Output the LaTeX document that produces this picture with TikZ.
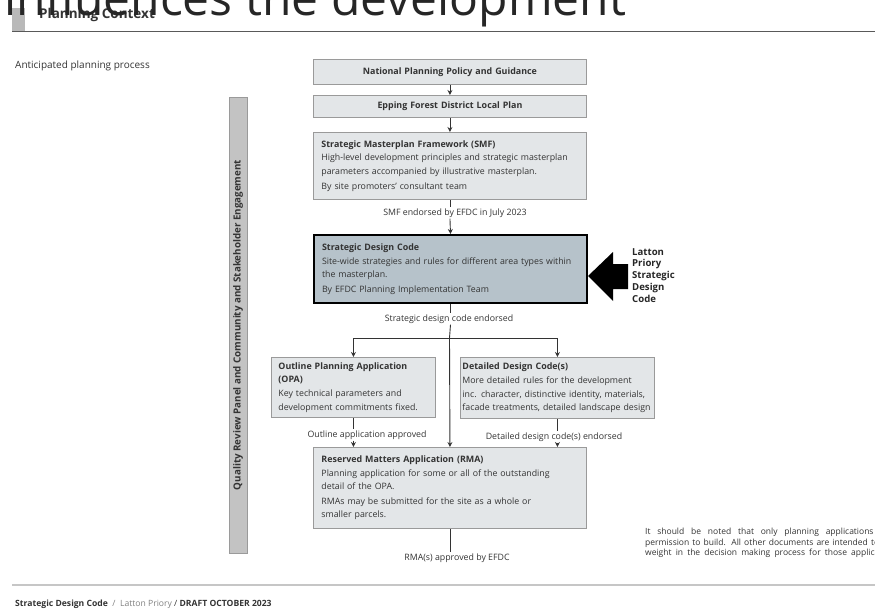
\documentclass[tikz,border=0pt]{standalone}
\usepackage{fontspec}
\setmainfont{Open Sans}
\newfontfamily\overlayfont{Open Sans}
\usetikzlibrary{arrows.meta}

\definecolor{boxfill}{HTML}{E3E6E8}
\definecolor{boxline}{HTML}{9A9A9A}
\definecolor{codefill}{HTML}{B6C2CA}
\definecolor{barfill}{HTML}{C3C3C3}
\definecolor{inkgrey}{HTML}{333333}

\newcommand{\boxtitle}[1]{{\bfseries\fontsize{8.9}{13.6}\selectfont #1}}

\tikzset{
  stagebox/.style={draw=boxline, fill=boxfill, line width=0.9pt, anchor=north west,
    inner xsep=8pt, align=left, text=inkgrey, font=\fontsize{8.8}{13.6}\selectfont},
  codebox/.style={stagebox, draw=black, fill=codefill, line width=2pt},
  steplabel/.style={text=inkgrey, inner sep=1pt, font=\fontsize{8.8}{10}\selectfont},
  flow/.style={line width=0.9pt, draw=inkgrey}
}

\begin{document}
\begin{tikzpicture}[x=1pt, y=-1pt, >={Stealth[length=5pt,width=5pt]}]
\useasboundingbox (0,0) rectangle (875,610);
\clip (0,0) rectangle (875,610);

% intestazione
\fill[gray!55] (12,8) rectangle (25,31);
\node[anchor=base west, inner sep=0, text=inkgrey, font=\bfseries\fontsize{13.5}{14}\selectfont] (context) at (39,19) {Planning Context};
\draw[line width=0.8pt, gray!70!black] (12,31) -- (875,31);
\node[anchor=base west, inner sep=0, text=black!85, font=\overlayfont\fontsize{48}{48}\selectfont] (headline) at (4,16) {influences the development};

\node[anchor=base west, inner sep=0, text=inkgrey, font=\fontsize{10}{11}\selectfont] (process) at (15,69) {Anticipated planning process};

% riquadri del processo
\node[stagebox, minimum width=273pt, minimum height=25pt, text width=257pt, align=center] (policy) at (313,59) {\boxtitle{National Planning Policy and Guidance}};
\node[stagebox, minimum width=273pt, minimum height=22pt, text width=257pt, align=center] (localplan) at (313,95) {\boxtitle{Epping Forest District Local Plan}};
\node[stagebox, minimum width=273pt, minimum height=67pt, text width=257pt] (smf) at (313,132) {\boxtitle{Strategic Masterplan Framework (SMF)}\\
  High-level development principles and strategic masterplan\\
  parameters accompanied by illustrative masterplan.\\[1pt]
  By site promoters' consultant team};
\node[codebox, minimum width=273pt, minimum height=68pt, text width=257pt] (sdc) at (313,234) {\boxtitle{Strategic Design Code}\\
  Site-wide strategies and rules for different area types within\\
  the masterplan.\\[1pt]
  By EFDC Planning Implementation Team};
\node[stagebox, minimum width=164pt, minimum height=60pt, text width=150pt, inner xsep=7pt] (opa) at (271,357) {\boxtitle{Outline Planning Application}\\
  \boxtitle{(OPA)}\\
  Key technical parameters and\\
  development commitments fixed.};
\node[stagebox, minimum width=194pt, minimum height=61pt, text width=190pt, inner xsep=2pt] (ddc) at (460,357) {\boxtitle{Detailed Design Code(s)}\\
  More detailed rules for the development\\
  inc. character, distinctive identity, materials,\\
  facade treatments, detailed landscape design};
\node[stagebox, minimum width=273pt, minimum height=81pt, text width=257pt] (rma) at (313,447) {\boxtitle{Reserved Matters Application (RMA)}\\
  Planning application for some or all of the outstanding\\
  detail of the OPA.\\[1pt]
  RMAs may be submitted for the site as a whole or\\
  smaller parcels.};

% fascia laterale
\node[draw=boxline, fill=barfill, line width=0.8pt, rotate=90, minimum width=456pt, minimum height=18pt, inner sep=0, text=inkgrey, font=\bfseries\fontsize{9.8}{10}\selectfont] (review) at (238,325) {Quality Review Panel and Community and Stakeholder Engagement};

% etichette
\node[steplabel] (smfok) at (455,213) {SMF endorsed by EFDC in July 2023};
\node[steplabel] (sdcok) at (449,319) {Strategic design code endorsed};
\node[steplabel] (opaok) at (367,435) {Outline application approved};
\node[steplabel] (ddcok) at (554,437) {Detailed design code(s) endorsed};
\node[steplabel] (rmaok) at (457,558) {RMA(s) approved by EFDC};

% frecce
\draw[flow, ->] (policy.south) -- (localplan.north);
\draw[flow, ->] (localplan.south) -- (smf.north);
\draw[flow] (smf.south) -- (smf.south |- smfok.north);
\draw[flow, ->] (smf.south |- smfok.south) -- (sdc.north);
\draw[flow] (sdc.south) -- (sdc.south |- sdcok.north);
\coordinate (split) at (449.5,338);
\draw[flow] (sdc.south |- sdcok.south) -- (split);
\draw[flow] (opa.north |- split) -- (ddc.north |- split);
\draw[flow, ->] (opa.north |- split) -- (opa.north);
\draw[flow, ->] (ddc.north |- split) -- (ddc.north);
\draw[flow, ->] (split) -- (rma.north);
\draw[flow] (opa.south) -- (opa.south |- opaok.north);
\draw[flow, ->] (opa.south |- opaok.south) -- (opa.south |- rma.north);
\draw[flow] (ddc.south) -- (ddc.south |- ddcok.north);
\draw[flow, ->] (ddc.south |- ddcok.south) -- (ddc.south |- rma.north);
\draw[flow] (rma.south) -- (rma.south |- rmaok.north);

% freccia grande e titolo
\fill[black] (588,276) -- (613,252) -- (613,264) -- (628,264) -- (628,289) -- (613,289) -- (613,301) -- cycle;
\node[anchor=north west, inner sep=0, align=left, text=black!85, font=\bfseries\fontsize{9.6}{11.8}\selectfont] (latton) at (632,248) {Latton\\Priory\\Strategic\\Design\\Code};

% nota a destra
\node[anchor=north west, inner sep=0, align=left, text=inkgrey, font=\fontsize{8.5}{10.5}\selectfont] (note) at (645,528) {%
  \makebox[256pt][s]{It should be noted that only planning applications grant}\\
  \makebox[256pt][s]{permission to build. All other documents are intended to have}\\
  \makebox[256pt][s]{weight in the decision making process for those applications.}};

% pie di pagina
\draw[line width=1.5pt, gray!45] (12,585) -- (875,585);
\node[anchor=base west, inner sep=0, text=inkgrey, font=\fontsize{8.6}{9}\selectfont] (footer) at (15,606) {\textbf{Strategic Design Code} {\color{gray}~/~ Latton Priory} / \textbf{DRAFT OCTOBER 2023}};

\end{tikzpicture}
\end{document}
